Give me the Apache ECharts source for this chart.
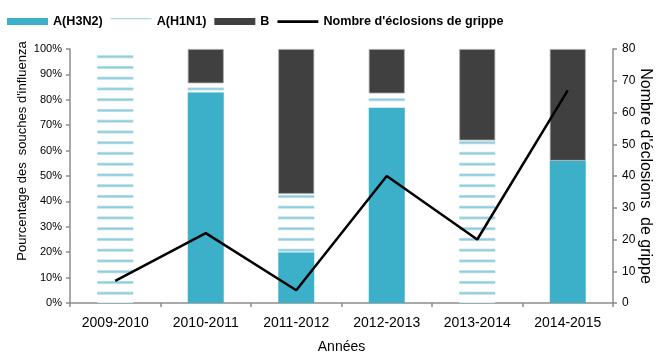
<!DOCTYPE html>
<html>
<head>
<meta charset="utf-8">
<script src="https://cdn.jsdelivr.net/npm/echarts@6/dist/echarts.min.js"></script>
<style>
  html, body { margin: 0; padding: 0; background: #fff; }
  #chart { width: 658px; height: 352px; }
</style>
</head>
<body>
<div id="chart"></div>
<script>
// Influenza strain shares per season (%) and outbreak counts
const seasons = ['2009-2010', '2010-2011', '2011-2012', '2012-2013', '2013-2014', '2014-2015'];
const shareH3N2 = [0, 83, 20, 77, 0, 56];
const shareH1N1 = [100, 3.5, 23, 5.5, 64, 0];
const shareB = [0, 13.5, 57, 17.5, 36, 44];
const outbreaks = [7, 22, 4, 40, 20, 67];

const FONT = '"Liberation Sans", Arial, sans-serif';
const H3N2_COLOR = '#3cb0c9';
const B_COLOR = '#404040';

// Empty segments are skipped so no zero-height outline is drawn
const skipZero = arr => arr.map(v => (v === 0 ? '-' : v));

// Horizontal stripe fill for the A(H1N1) segments
function stripePattern() {
  const c = document.createElement('canvas');
  c.width = 4;
  c.height = 43;
  const ctx = c.getContext('2d');
  ctx.fillStyle = '#ffffff';
  ctx.fillRect(0, 0, 4, 43);
  for (let k = 0; k < 4; k++) {
    const cy = 2.95 + k * 10.75;
    ctx.fillStyle = '#bfe3ec';
    ctx.fillRect(0, cy - 1.6, 4, 3.2);
    ctx.fillStyle = '#93cddc';
    ctx.fillRect(0, cy - 0.8, 4, 1.6);
  }
  return c;
}

// Legend icons: thin line for A(H1N1), thick line for the outbreak curve
const THIN_LINE_ICON = 'path://M0,0L0.01,0L0.01,0.01Z M0,0H41V1.3H0Z M41,7L41.01,7L41.01,7.01Z';
const THICK_LINE_ICON = 'path://M0,0L0.01,0L0.01,0.01Z M0,2.3H41V4.9H0Z M41,7L41.01,7L41.01,7.01Z';

const chart = echarts.init(document.getElementById('chart'), null, { renderer: 'canvas' });

chart.setOption({
  animation: false,
  textStyle: { fontFamily: FONT },
  legend: {
    left: 7,
    top: 15,
    padding: 0,
    itemWidth: 41,
    itemHeight: 7,
    itemGap: 8,
    selectedMode: false,
    textStyle: { fontFamily: FONT, fontSize: 12.6, fontWeight: 'bold', color: '#000' },
    data: [
      { name: 'A(H3N2)', icon: 'rect' },
      { name: 'A(H1N1)', icon: THIN_LINE_ICON, itemStyle: { color: '#a6d7e4', borderWidth: 0 } },
      { name: 'B', icon: 'rect', itemStyle: { borderWidth: 0 } },
      { name: "Nombre d'éclosions de grippe", icon: THICK_LINE_ICON, itemStyle: { color: '#000', borderWidth: 0 } }
    ]
  },
  grid: { left: 70, right: 45, top: 49, bottom: 49, containLabel: false, outerBoundsMode: 'none' },
  xAxis: {
    type: 'category',
    data: seasons,
    boundaryGap: true,
    name: 'Années',
    nameLocation: 'middle',
    nameGap: 37,
    nameMoveOverlap: false,
    nameTextStyle: { fontFamily: FONT, fontSize: 14, color: '#000' },
    axisLine: { lineStyle: { color: '#8c8c8c', width: 1.5 } },
    axisTick: { show: true, alignWithLabel: false, length: 4, lineStyle: { color: '#8c8c8c', width: 1.5 } },
    axisLabel: { fontFamily: FONT, fontSize: 14, color: '#000', margin: 13 }
  },
  yAxis: [
    {
      type: 'value',
      min: 0,
      max: 100,
      interval: 10,
      position: 'left',
      name: "Pourcentage des  souches d'influenza",
      nameLocation: 'middle',
      nameGap: 48,
      nameMoveOverlap: false,
      nameTextStyle: { fontFamily: FONT, fontSize: 13, color: '#000', align: 'center', verticalAlign: 'middle', padding: [0, 0, 0, 50] },
      axisLine: { show: true, lineStyle: { color: '#8c8c8c', width: 1.5 } },
      axisTick: { show: true, length: 4, lineStyle: { color: '#8c8c8c', width: 1.5 } },
      axisLabel: { fontFamily: FONT, fontSize: 11, color: '#000', margin: 8, formatter: '{value}%' },
      splitLine: { show: false }
    },
    {
      type: 'value',
      min: 0,
      max: 80,
      interval: 10,
      position: 'right',
      name: "Nombre d'éclosions  de grippe",
      nameLocation: 'middle',
      nameRotate: -90,
      nameGap: 32,
      nameMoveOverlap: false,
      nameTextStyle: { fontFamily: FONT, fontSize: 16, color: '#000', align: 'center', verticalAlign: 'middle' },
      axisLine: { show: true, lineStyle: { color: '#8c8c8c', width: 1.5 } },
      axisTick: { show: true, length: 4, lineStyle: { color: '#8c8c8c', width: 1.5 } },
      axisLabel: { fontFamily: FONT, fontSize: 12, color: '#000', margin: 9 },
      splitLine: { show: false }
    }
  ],
  series: [
    {
      name: 'A(H3N2)',
      type: 'bar',
      stack: 'souches',
      barWidth: 36,
      data: skipZero(shareH3N2),
      itemStyle: { color: H3N2_COLOR }
    },
    {
      name: 'A(H1N1)',
      type: 'bar',
      stack: 'souches',
      barWidth: 36,
      data: skipZero(shareH1N1),
      itemStyle: { color: { image: stripePattern(), repeat: 'repeat' } }
    },
    {
      name: 'B',
      type: 'bar',
      stack: 'souches',
      barWidth: 36,
      data: skipZero(shareB),
      itemStyle: { color: B_COLOR, borderColor: '#a8a8a8', borderWidth: 0.8 }
    },
    {
      name: "Nombre d'éclosions de grippe",
      type: 'line',
      yAxisIndex: 1,
      data: outbreaks,
      symbol: 'none',
      z: 5,
      lineStyle: { color: '#000', width: 2.5 },
      itemStyle: { color: '#000' }
    }
  ]
});
</script>
</body>
</html>
